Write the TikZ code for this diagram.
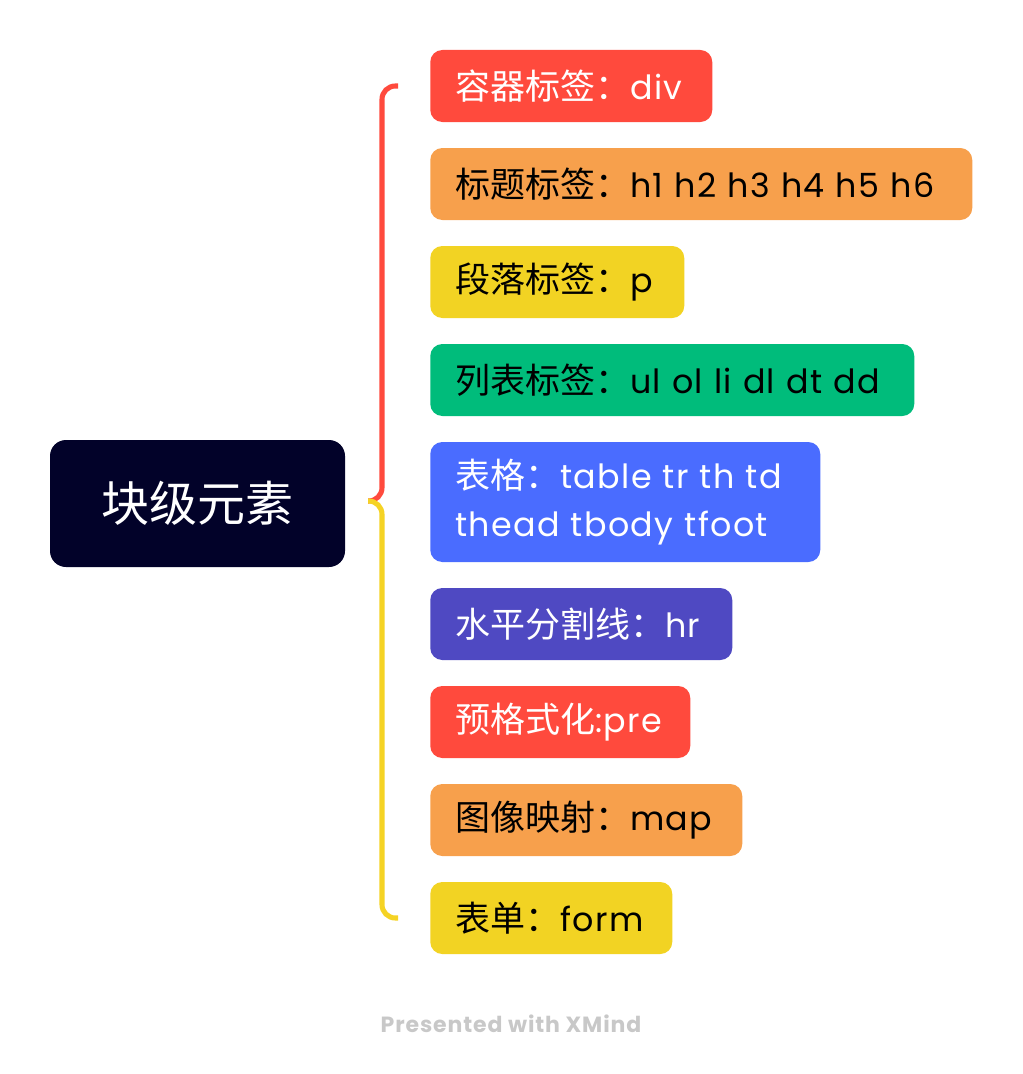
\documentclass[tikz,border=0pt]{standalone}
\usepackage{fontspec}
\setmainfont{Poppins}[LetterSpace=4,WordSpace=1.6]
\newfontfamily\zh{Noto Sans CJK SC}[Scale=1.05]
\newfontfamily\markfont{Poppins}[LetterSpace=4]
\definecolor{cred}{HTML}{FF4A3D}
\definecolor{corange}{HTML}{F7A04C}
\definecolor{cyellow}{HTML}{F2D323}
\definecolor{cgreen}{HTML}{00BC7B}
\definecolor{cblue}{HTML}{4A6CFF}
\definecolor{cpurple}{HTML}{4F49C2}
\definecolor{croot}{HTML}{020229}
\definecolor{cbrace}{HTML}{F5D324}
\definecolor{cmark}{HTML}{C8C8C8}
\tikzset{
  leaf/.style={draw=none, rounded corners=9pt, anchor=west, inner xsep=18.75pt, inner ysep=0pt,
    minimum height=54pt, align=left, font=\fontsize{25}{27}\selectfont},
  rootbox/.style={fill=croot, rounded corners=12pt, minimum width=221.25pt, minimum height=95.25pt,
    text=white, font=\fontsize{34.29}{36}\selectfont},
  bracel/.style={line width=3.8pt, rounded corners=10pt},
}
\begin{document}
\begin{tikzpicture}[x=0.75pt,y=-0.75pt]
\useasboundingbox (0,0) rectangle (1022,1074);
\node[rootbox] (root) at (197.5,503.5) {\zh 块级元素};

\node[leaf, fill=cred, text=white, text width=174pt] (b1) at (430,86) {\mbox{{\zh 容器标签：}div}};
\node[leaf, fill=corange, text=black, text width=369pt] (b2) at (430,184) {\mbox{{\zh 标题标签：}h1 h2 h3 h4 h5 h6}};
\node[leaf, fill=cyellow, text=black, text width=153pt] (b3) at (430,282) {\mbox{{\zh 段落标签：}p}};
\node[leaf, fill=cgreen, text=black, text width=325.5pt] (b4) at (430,380) {\mbox{{\zh 列表标签：}ul ol li dl dt dd}};
\node[leaf, fill=cblue, text=white, text width=255pt, minimum height=90pt, font=\fontsize{25}{36}\selectfont] (b5) at (430,502) {\mbox{{\zh 表格：}table tr th td}\\\mbox{thead tbody tfoot}};
\node[leaf, fill=cpurple, text=white, text width=189pt] (b6) at (430,624) {\mbox{{\zh 水平分割线：}hr}};
\node[leaf, fill=cred, text=white, text width=157.5pt] (b7) at (430,722) {\mbox{{\zh 预格式化}:pre}};
\node[leaf, fill=corange, text=black, text width=196.5pt] (b8) at (430,820) {\mbox{{\zh 图像映射：}map}};
\node[leaf, fill=cyellow, text=black, text width=144pt] (b9) at (430,918) {\mbox{{\zh 表单：}form}};

\coordinate (tip) at (368,501);
\coordinate (e1) at (398,86);
\coordinate (e9) at (398,918);
\draw[bracel, cred] (tip) -| (382,86) -- (e1);
\draw[bracel, cbrace] (tip) -| (382,918) -- (e9);

\node[text=cmark, font=\markfont\bfseries\fontsize{16.5}{18}\selectfont] (mark) at (511,1024) {Presented with XMind};
\end{tikzpicture}
\end{document}
